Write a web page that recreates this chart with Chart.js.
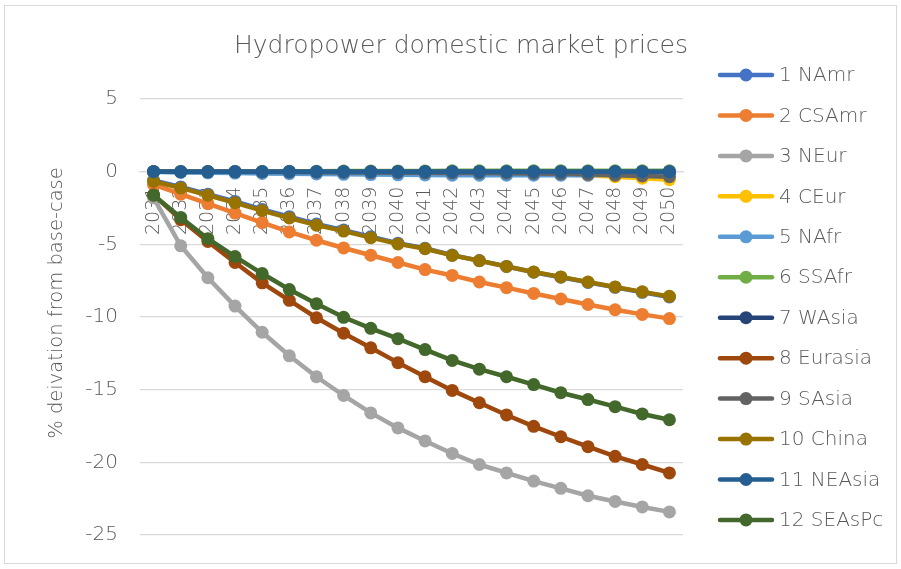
<!DOCTYPE html>
<html>
<head>
<meta charset="utf-8">
<title>Hydropower domestic market prices</title>
<script src="https://cdn.jsdelivr.net/npm/chart.js@4/dist/chart.umd.min.js"></script>
<style>
  html, body { margin: 0; padding: 0; background: #ffffff; }
  #wrap { position: relative; width: 901px; height: 569px; }
</style>
</head>
<body>
<div id="wrap"><canvas id="chart" width="901" height="569"></canvas></div>
<script>
// Years on the category axis
const years = ['2031','2032','2033','2034','2035','2036','2037','2038','2039','2040',
               '2041','2042','2043','2044','2045','2046','2047','2048','2049','2050'];

// Region names (legend order)
const regions = ['1 NAmr','2 CSAmr','3 NEur','4 CEur','5 NAfr','6 SSAfr',
                 '7 WAsia','8 Eurasia','9 SAsia','10 China','11 NEAsia','12 SEAsPc'];

// % deviation from base-case, one array per region
const namr    = [-0.60,-1.05,-1.55,-2.05,-2.60,-3.10,-3.60,-4.02,-4.47,-4.92,-5.27,-5.74,-6.12,-6.52,-6.92,-7.26,-7.62,-7.96,-8.30,-8.62];
const csamr   = [-0.90,-1.55,-2.20,-2.85,-3.50,-4.15,-4.72,-5.25,-5.75,-6.25,-6.74,-7.14,-7.59,-7.98,-8.38,-8.76,-9.14,-9.50,-9.82,-10.11];
const neur    = [-1.80,-5.10,-7.30,-9.25,-11.05,-12.67,-14.11,-15.40,-16.60,-17.63,-18.53,-19.39,-20.15,-20.73,-21.29,-21.79,-22.30,-22.69,-23.07,-23.41];
const ceur    = [0.00,-0.02,-0.03,-0.05,-0.06,-0.08,-0.10,-0.11,-0.12,-0.13,-0.14,-0.15,-0.16,-0.17,-0.18,-0.20,-0.24,-0.35,-0.45,-0.55];
const nafr    = [0.00,-0.05,-0.08,-0.10,-0.12,-0.14,-0.16,-0.18,-0.20,-0.22,-0.23,-0.24,-0.24,-0.24,-0.24,-0.24,-0.24,-0.22,-0.20,-0.18];
const ssafr   = [0.00,0.01,0.01,0.02,0.02,0.03,0.03,0.04,0.04,0.05,0.05,0.06,0.06,0.06,0.07,0.07,0.07,0.06,0.06,0.06];
const wasia   = [0.00,0.00,0.00,0.00,0.00,0.00,0.00,0.00,0.00,0.00,0.00,0.00,0.00,0.00,0.00,0.00,0.00,0.00,0.00,0.00];
const eurasia = [-1.60,-3.30,-4.80,-6.25,-7.65,-8.85,-10.05,-11.12,-12.12,-13.14,-14.11,-15.05,-15.90,-16.74,-17.52,-18.24,-18.92,-19.59,-20.15,-20.73];
const sasia   = [0.00,0.00,-0.01,-0.01,-0.02,-0.03,-0.04,-0.05,-0.06,-0.07,-0.08,-0.09,-0.10,-0.11,-0.12,-0.14,-0.18,-0.24,-0.30,-0.35];
const china   = [-0.67,-1.12,-1.62,-2.14,-2.68,-3.19,-3.68,-4.09,-4.54,-4.97,-5.30,-5.76,-6.13,-6.52,-6.90,-7.24,-7.59,-7.93,-8.27,-8.58];
const neasia  = [0.00,0.00,0.00,0.00,0.00,0.00,0.00,0.00,0.00,0.00,0.00,0.00,0.00,0.00,0.00,0.00,0.00,0.00,0.00,0.00];
const seaspc  = [-1.62,-3.15,-4.61,-5.84,-7.01,-8.11,-9.08,-10.02,-10.78,-11.49,-12.24,-12.99,-13.59,-14.11,-14.65,-15.21,-15.68,-16.17,-16.67,-17.07];

const seriesValues = [namr, csamr, neur, ceur, nafr, ssafr, wasia, eurasia, sasia, china, neasia, seaspc];
const seriesColors = ['#4472C4','#ED7D31','#A5A5A5','#FFC000','#5B9BD5','#70AD47',
                      '#264478','#9E480E','#636363','#997300','#255E91','#43682B'];

// Value axis ticks
const yTickMin = -25, yTickMax = 5, yTickStep = 5;

const TEXT = '#595959';
const FONT = "'DejaVu Sans', 'Noto Sans', sans-serif";
const WEIGHT = '200';

const datasets = seriesValues.map((vals, i) => ({
  label: regions[i],
  data: vals,
  borderColor: seriesColors[i],
  backgroundColor: seriesColors[i],
  pointBackgroundColor: seriesColors[i],
  pointBorderColor: seriesColors[i],
  pointBorderWidth: 0,
  pointRadius: 6.5,
  borderWidth: 4.5,
  tension: 0,
  fill: false,
  // later series are painted over earlier ones
  order: -i
}));

// Title, axis title, legend and frame drawn around the plot
const decorations = {
  id: 'decorations',
  beforeDraw(chart) {
    const ctx = chart.ctx;
    ctx.save();
    ctx.fillStyle = '#ffffff';
    ctx.fillRect(0, 0, chart.width, chart.height);
    ctx.strokeStyle = '#D9D9D9';
    ctx.lineWidth = 1;
    ctx.strokeRect(4.5, 5.5, chart.width - 9, chart.height - 11);
    ctx.restore();
  },
  afterDraw(chart) {
    const ctx = chart.ctx;
    ctx.save();
    // chart title
    ctx.fillStyle = TEXT;
    ctx.font = WEIGHT + ' 25px ' + FONT;
    ctx.textAlign = 'center';
    ctx.textBaseline = 'middle';
    ctx.fillText('Hydropower domestic market prices', 461, 46);

    // value axis title
    ctx.save();
    ctx.translate(57, 303);
    ctx.rotate(-Math.PI / 2);
    ctx.font = WEIGHT + ' 19.5px ' + FONT;
    ctx.fillText('% deivation from base-case', 0, 0);
    ctx.restore();

    // legend: line with marker, then label
    ctx.textAlign = 'left';
    ctx.font = WEIGHT + ' 20px ' + FONT;
    chart.data.datasets.forEach((ds, i) => {
      const y = 75 + i * 40.45;
      ctx.strokeStyle = ds.borderColor;
      ctx.lineWidth = 4.5;
      ctx.lineCap = 'round';
      ctx.beginPath();
      ctx.moveTo(720, y);
      ctx.lineTo(772, y);
      ctx.stroke();
      ctx.fillStyle = ds.borderColor;
      ctx.beginPath();
      ctx.arc(746, y, 6.5, 0, Math.PI * 2);
      ctx.fill();
      ctx.fillStyle = TEXT;
      ctx.fillText(ds.label, 779, y + 1);
    });
    ctx.restore();
  }
};

new Chart(document.getElementById('chart'), {
  type: 'line',
  data: { labels: years, datasets },
  plugins: [decorations],
  options: {
    responsive: false,
    animation: false,
    devicePixelRatio: 1,
    layout: { padding: { left: 0, top: 99, right: 218, bottom: 24.5 } },
    plugins: {
      legend: { display: false },
      title: { display: false },
      tooltip: { enabled: false }
    },
    scales: {
      x: {
        type: 'category',
        position: { y: 0 },
        offset: true,
        grid: { display: false, drawTicks: false },
        border: { display: true, color: '#D9D9D9', width: 1.3 },
        ticks: {
          autoSkip: false,
          minRotation: 90,
          maxRotation: 90,
          padding: 15,
          color: TEXT,
          font: { family: FONT, size: 19, weight: WEIGHT }
        }
      },
      y: {
        min: yTickMin,
        max: yTickMax,
        grid: { color: '#D9D9D9', lineWidth: 1.3, drawTicks: false },
        border: { display: false },
        ticks: {
          stepSize: yTickStep,
          padding: 22,
          color: TEXT,
          font: { family: FONT, size: 20, weight: WEIGHT }
        },
        afterFit(scale) { scale.width = 140; }
      }
    }
  }
});
</script>
</body>
</html>
